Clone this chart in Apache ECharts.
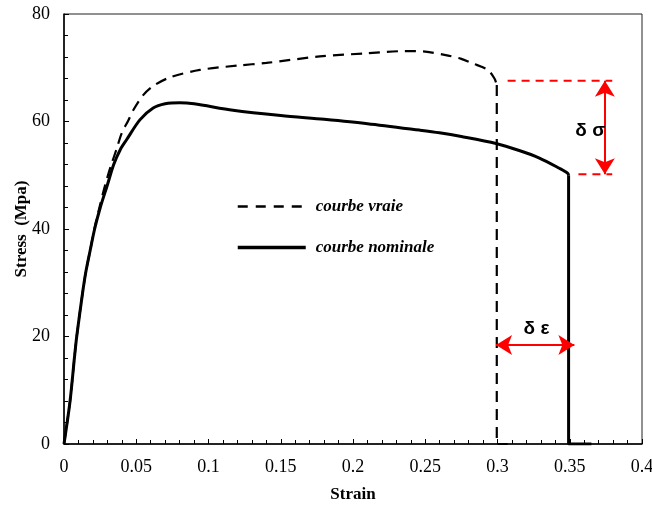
<!DOCTYPE html>
<html>
<head>
<meta charset="utf-8">
<script src="https://cdn.jsdelivr.net/npm/echarts@6/dist/echarts.min.js"></script>
<style>html,body{margin:0;padding:0;background:#fff}#c{width:652px;height:506px}</style>
</head>
<body>
<div id="c"></div>
<script>
// ---- data ----
var trueStrain = [0, 0.0042, 0.0072, 0.0088, 0.0128, 0.0151, 0.0181, 0.021, 0.0248, 0.0286, 0.0325, 0.0363, 0.0399, 0.0445, 0.0479, 0.0548, 0.0617, 0.0733, 0.094, 0.12, 0.14, 0.177, 0.21, 0.236, 0.25, 0.2633, 0.2745, 0.2829, 0.2933, 0.2979, 0.2995];
var trueStress = [0, 8, 16, 20, 28, 32, 36, 40, 44.3, 48.3, 51.8, 54.8, 57.8, 60.2, 62.1, 64.9, 66.6, 68.2, 69.6, 70.4, 70.9, 72.1, 72.7, 73.1, 73.0, 72.4, 71.7, 70.8, 69.6, 68.0, 66.8];
var trueDropStrain = [0.2995, 0.2995, 0.307];
var trueDropStress = [66.8, 0, 0];

var nomStrain = [0, 0.0042, 0.0072, 0.0088, 0.0128, 0.0151, 0.0181, 0.0212, 0.0251, 0.0298, 0.0344, 0.039, 0.0433, 0.0525, 0.0617, 0.07, 0.08, 0.09, 0.117, 0.15, 0.18, 0.21, 0.246, 0.2598, 0.275, 0.299, 0.315, 0.329, 0.3428, 0.3485, 0.3492];
var nomStress = [0, 8, 16, 20, 28, 32, 36, 40, 44, 48, 52, 54.8, 56.6, 60.3, 62.5, 63.3, 63.5, 63.3, 62.1, 61.1, 60.4, 59.6, 58.4, 57.9, 57.2, 55.9, 54.6, 53.2, 51.3, 50.4, 50.0];
var nomDropStrain = [0.3492, 0.3492, 0.365];
var nomDropStress = [50.0, 0, 0];

// red annotations
var sigTopStrain = [0.307, 0.3794];
var sigTopStress = [67.6, 67.6];
var sigBotStrain = [0.356, 0.3794];
var sigBotStress = [50.2, 50.2];
var sigArrowStrain = [0.3743, 0.3743];
var sigArrowStress = [67.6, 50.2];
var epsArrowStrain = [0.299, 0.3532];
var epsArrowStress = [18.4, 18.4];
var labelText = ['δ σ', 'δ ε'];
var labelStrain = [0.3642, 0.327];
var labelStress = [58.3, 21.5];

var xTicks = [0, 0.05, 0.1, 0.15, 0.2, 0.25, 0.3, 0.35, 0.4];
var yTicks = [0, 20, 40, 60, 80];

function zip(a, b) { return a.map(function (v, i) { return [v, b[i]]; }); }

var serif = 'Liberation Serif';
var chart = echarts.init(document.getElementById('c'), null, {renderer: 'canvas'});
chart.setOption({
  animation: false,
  backgroundColor: '#fff',
  grid: {left: 64, right: 10, top: 14, bottom: 62, containLabel: false, outerBoundsMode: 'none',
    show: true, borderColor: '#222', borderWidth: 1, backgroundColor: 'transparent'},
  xAxis: {
    type: 'value', min: xTicks[0], max: xTicks[xTicks.length - 1], interval: 0.05,
    name: 'Strain', nameLocation: 'middle', nameGap: 42, nameMoveOverlap: false,
    nameTextStyle: {fontFamily: serif, fontWeight: 'bold', fontSize: 17, color: '#000'},
    axisLine: {show: true, onZero: false, lineStyle: {color: '#000', width: 1.5}},
    axisTick: {show: true, inside: true, length: 5, lineStyle: {color: '#000'}},
    minorTick: {show: true, splitNumber: 5, length: 4, lineStyle: {color: '#000'}},
    splitLine: {show: false},
    axisLabel: {fontFamily: serif, fontSize: 18, color: '#000', margin: 14}
  },
  yAxis: {
    type: 'value', min: yTicks[0], max: yTicks[yTicks.length - 1], interval: 20,
    name: 'Stress  (Mpa)', nameLocation: 'middle', nameGap: 34, nameMoveOverlap: false,
    nameTextStyle: {fontFamily: serif, fontWeight: 'bold', fontSize: 17, color: '#000'},
    axisLine: {show: true, onZero: false, lineStyle: {color: '#000', width: 1.5}},
    axisTick: {show: true, inside: true, length: 5, lineStyle: {color: '#000'}},
    minorTick: {show: true, splitNumber: 5, length: 4, lineStyle: {color: '#000'}},
    splitLine: {show: false},
    axisLabel: {fontFamily: serif, fontSize: 18, color: '#000', margin: 14}
  },
  legend: {
    data: [
      {name: 'courbe vraie', lineStyle: {width: 2.5, type: [10, 8], color: '#000'}},
      {name: 'courbe nominale', lineStyle: {width: 3.5, color: '#000'}}
    ],
    orient: 'vertical', left: 231, top: 193,
    itemWidth: 68, itemHeight: 14, itemGap: 24,
    itemStyle: {opacity: 0},
    textStyle: {fontFamily: serif, fontStyle: 'italic', fontWeight: 'bold', fontSize: 17, color: '#000', padding: [0, 0, 0, 5]}
  },
  series: [
    {name: 'courbe vraie', type: 'line', data: zip(trueStrain, trueStress), smooth: 0.3, showSymbol: false, symbol: 'none',
      lineStyle: {color: '#000', width: 2.2, type: [11, 7]}, itemStyle: {color: '#000'}, z: 3},
    {name: 'courbe vraie', type: 'line', data: zip(trueDropStrain, trueDropStress), showSymbol: false, symbol: 'none',
      lineStyle: {color: '#000', width: 2.2, type: [11, 7]}, itemStyle: {color: '#000'}, z: 3},
    {name: 'courbe nominale', type: 'line', data: zip(nomStrain, nomStress), smooth: 0.3, showSymbol: false, symbol: 'none',
      lineStyle: {color: '#000', width: 3}, itemStyle: {color: '#000'}, z: 4},
    {name: 'courbe nominale', type: 'line', data: zip(nomDropStrain, nomDropStress), showSymbol: false, symbol: 'none',
      lineStyle: {color: '#000', width: 3}, itemStyle: {color: '#000'}, z: 4},
    {type: 'line', data: zip(sigTopStrain, sigTopStress), showSymbol: false, symbol: 'none',
      lineStyle: {color: '#ff0000', width: 2, type: [8, 6]}, z: 2},
    {type: 'line', data: zip(sigBotStrain, sigBotStress), showSymbol: false, symbol: 'none',
      lineStyle: {color: '#ff0000', width: 2, type: [8, 6]}, z: 2,
      markLine: {
        silent: true, symbol: ['arrow', 'arrow'], symbolSize: [15, 16],
        label: {show: false},
        lineStyle: {color: '#ff0000', width: 2, type: 'solid'},
        data: [
          [{coord: [sigArrowStrain[0], sigArrowStress[0]]}, {coord: [sigArrowStrain[1], sigArrowStress[1]]}],
          [{coord: [epsArrowStrain[0], epsArrowStress[0]]}, {coord: [epsArrowStrain[1], epsArrowStress[1]]}]
        ]
      }},
    {type: 'scatter', symbolSize: 1, itemStyle: {opacity: 0},
      data: labelStrain.map(function (v, i) { return {value: [v, labelStress[i]], name: labelText[i]}; }),
      label: {show: true, position: 'inside', formatter: '{b}', fontFamily: 'Liberation Sans', fontWeight: 'bold', fontSize: 19, color: '#000', opacity: 1}, z: 5}
  ]
});
</script>
</body>
</html>
